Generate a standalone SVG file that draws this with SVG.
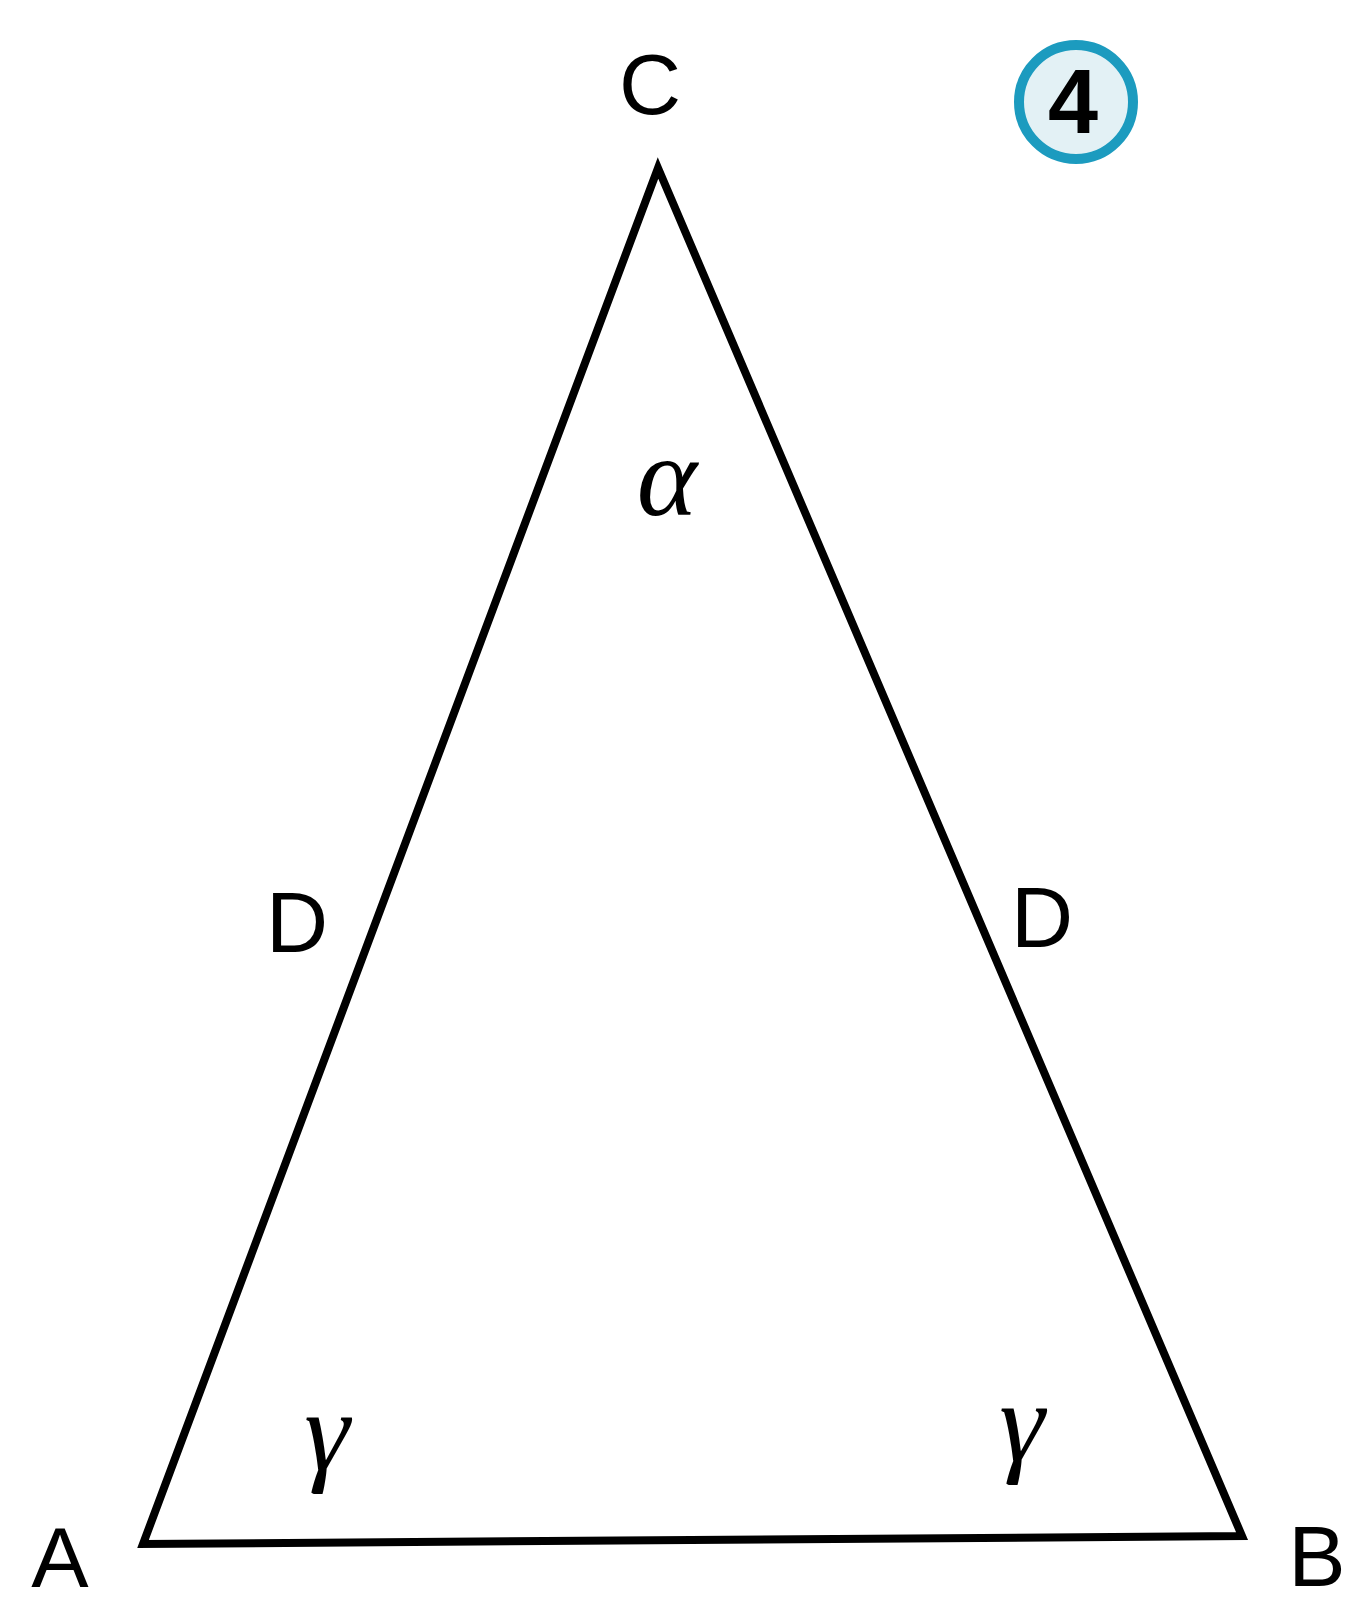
<svg xmlns="http://www.w3.org/2000/svg" width="1350" height="1606" viewBox="0 0 1350 1606">
<style>
.lbl{font-family:"Liberation Sans",Arial,sans-serif;font-size:86px;fill:#000;text-anchor:middle}
.ang{font-family:"Liberation Serif","Times New Roman",serif;font-style:italic;font-size:115px;fill:#000;text-anchor:middle}
.edge{fill:none;stroke:#000;stroke-width:8;stroke-linejoin:miter}
</style>
<rect width="1350" height="1606" fill="#fff"/>
<g id="connectors">
<polygon class="edge" points="658,168 1242,1536 143,1544"/>
</g>
<g id="node-C"><text class="lbl" x="650" y="114">C</text></g>
<g id="node-A"><text class="lbl" x="60" y="1587">A</text></g>
<g id="node-B"><text class="lbl" x="1317" y="1586">B</text></g>
<g id="node-D-left"><text class="lbl" x="297" y="952">D</text></g>
<g id="node-D-right"><text class="lbl" x="1042" y="947">D</text></g>
<g id="angle-alpha"><text class="ang" x="667" y="515">α</text></g>
<g id="angle-gamma-left"><text class="ang" x="327" y="1470">γ</text></g>
<g id="angle-gamma-right"><text class="ang" x="1022" y="1461">γ</text></g>
<g id="badge-4">
<circle cx="1076" cy="102" r="57" fill="#e3f1f5" stroke="#1c9bbf" stroke-width="10"/>
<text x="1073" y="133" font-family="Liberation Sans,Arial,sans-serif" font-weight="bold" font-size="90" text-anchor="middle" fill="#000">4</text>
</g>
</svg>
